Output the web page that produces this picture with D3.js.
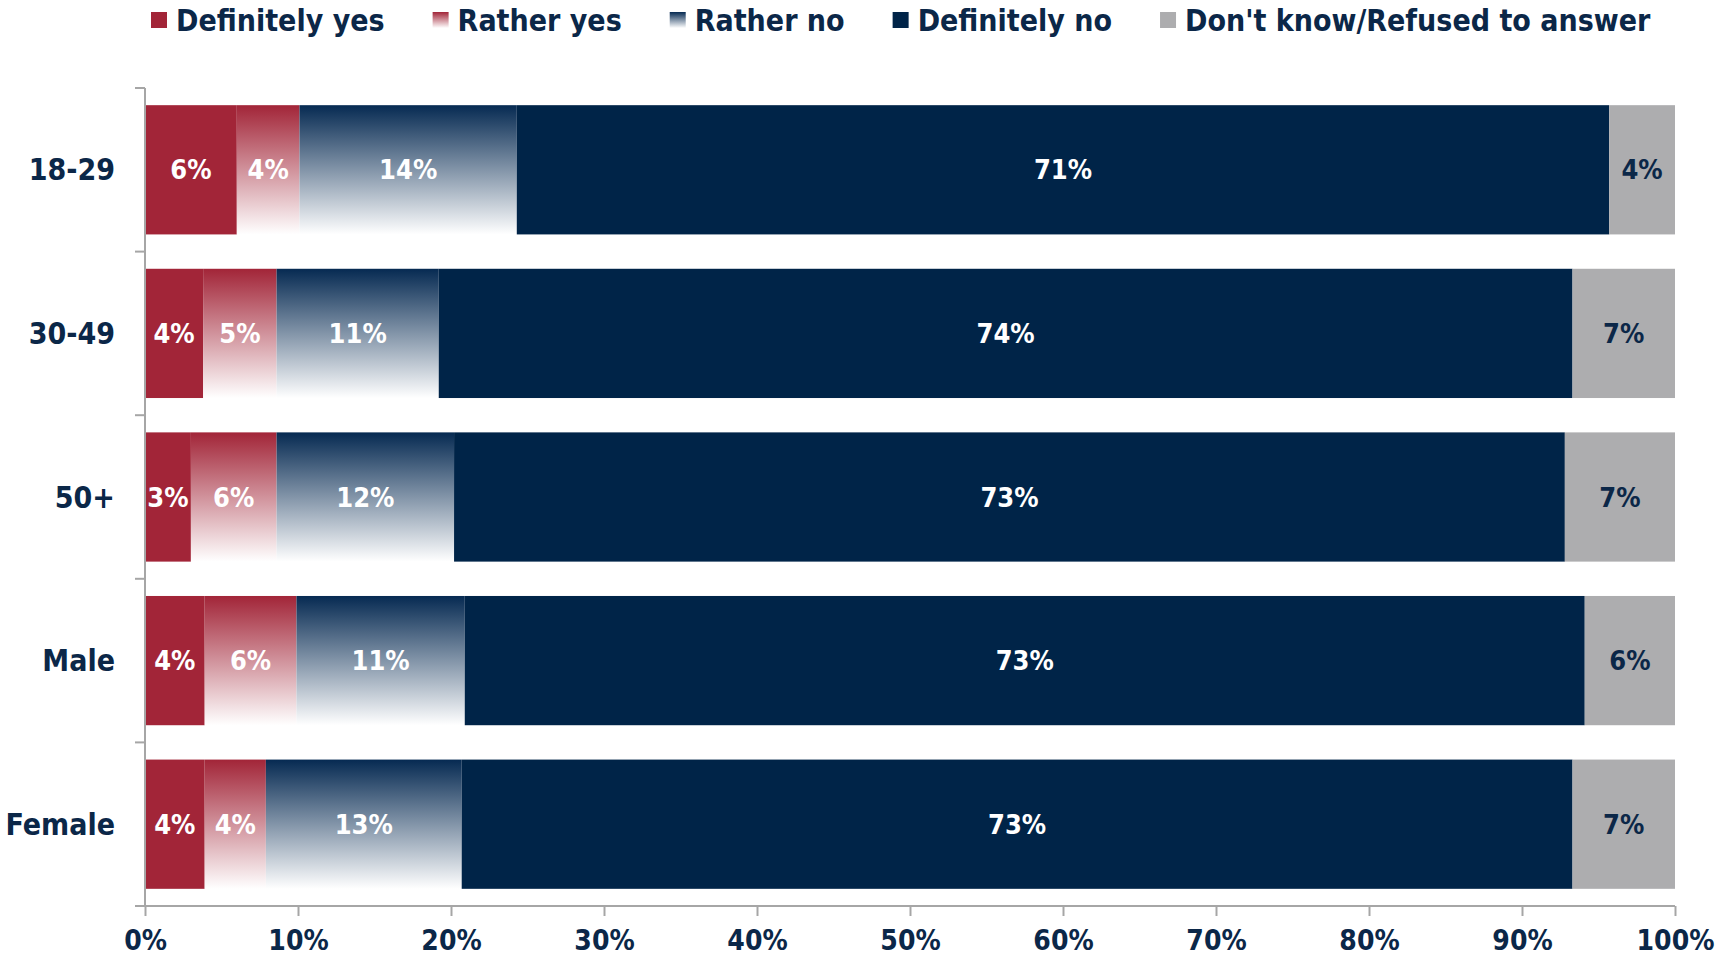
<!DOCTYPE html>
<html>
<head>
<meta charset="utf-8">
<script src="https://cdn.jsdelivr.net/npm/d3@7"></script>
<style>
  html, body { margin: 0; padding: 0; background: #fff; }
  svg { display: block; }
  text { font-family: "DejaVu Sans Condensed", "DejaVu Sans", sans-serif; font-weight: bold; }
</style>
</head>
<body>
<svg id="chart" width="1715" height="966"></svg>
<script>
// ---- data ----
const categories = ["18-29", "30-49", "50+", "Male", "Female"];
const seriesNames = ["Definitely yes", "Rather yes", "Rather no", "Definitely no", "Don't know/Refused to answer"];
const definitelyYes = [6.0, 3.8, 3.0, 3.9, 3.9];
const ratherYes     = [4.1, 4.8, 5.6, 6.0, 4.0];
const ratherNo      = [14.2, 10.6, 11.6, 11.0, 12.8];
const definitelyNo  = [71.4, 74.1, 72.6, 73.2, 72.6];
const dontKnow      = [4.3, 6.7, 7.2, 5.9, 6.7];
const xTicks = [0, 10, 20, 30, 40, 50, 60, 70, 80, 90, 100];

const seriesValues = [definitelyYes, ratherYes, ratherNo, definitelyNo, dontKnow];

// ---- styles ----
const navyText = "#0B2748";
const fills = ["#A22538", "url(#gradRatherYes)", "url(#gradRatherNo)", "#002448", "#ADADAF"];
const labelColors = ["#fff", "#fff", "#fff", "#fff", navyText];

const svg = d3.select("#chart");
const W = 1715, H = 966;
svg.append("rect").attr("width", W).attr("height", H).attr("fill", "#fff");

const defs = svg.append("defs");
function grad(id, top) {
  const g = defs.append("linearGradient").attr("id", id)
    .attr("x1", 0).attr("y1", 0).attr("x2", 0).attr("y2", 1);
  g.append("stop").attr("offset", "0%").attr("stop-color", top);
  g.append("stop").attr("offset", "100%").attr("stop-color", "#ffffff");
}
grad("gradRatherYes", "#A22538");
grad("gradRatherNo", "#062A52");

const x = d3.scaleLinear().domain([0, 100]).range([145, 1675]);
const y = d3.scaleBand().domain(categories).range([88, 906])
  .paddingInner(0.21).paddingOuter(0.105);

// rows: stacked
const rows = categories.map((c, i) => {
  const obj = { cat: c };
  seriesNames.forEach((s, j) => obj[s] = seriesValues[j][i]);
  return obj;
});
const stack = d3.stack().keys(seriesNames)(rows);

const layers = svg.append("g").selectAll("g").data(stack).join("g")
  .attr("fill", (d, i) => fills[i]);

layers.selectAll("rect").data(d => d).join("rect")
  .attr("x", d => x(d[0]))
  .attr("y", d => y(d.data.cat))
  .attr("width", d => x(d[1]) - x(d[0]))
  .attr("height", y.bandwidth());

// value labels
const lab = svg.append("g");
stack.forEach((layer, i) => {
  lab.selectAll(null).data(layer).join("text")
    .attr("x", d => (x(d[0]) + x(d[1])) / 2)
    .attr("y", d => y(d.data.cat) + y.bandwidth() / 2)
    .attr("text-anchor", "middle")
    .attr("dominant-baseline", "central")
    .attr("font-size", 27)
    .attr("fill", labelColors[i])
    .text(d => d3.format(".0f")(d[1] - d[0]) + "%");
});

// axes
const axisColor = "#A6A6A6";
// y axis line + boundary ticks
const yAxisG = svg.append("g");
yAxisG.append("line")
  .attr("x1", x(0)).attr("x2", x(0))
  .attr("y1", y.range()[0]).attr("y2", y.range()[1])
  .attr("stroke", axisColor).attr("stroke-width", 2);
const boundaries = d3.range(categories.length + 1).map(i => y.range()[0] + i * y.step());
yAxisG.selectAll("line.t").data(boundaries).join("line").attr("class", "t")
  .attr("x1", x(0) - 10).attr("x2", x(0))
  .attr("y1", d => d).attr("y2", d => d)
  .attr("stroke", axisColor).attr("stroke-width", 2);
// category labels
const yAx = svg.append("g").attr("transform", `translate(${x(0) - 30},0)`)
  .call(d3.axisLeft(y).tickSize(0).tickPadding(0));
yAx.select(".domain").remove();
yAx.selectAll("text")
  .attr("font-size", 30).attr("fill", navyText)
  .attr("font-family", "DejaVu Sans Condensed, DejaVu Sans, sans-serif")
  .attr("font-weight", "bold")
  .attr("dy", "0.35em");

// x axis
const xAx = svg.append("g").attr("transform", `translate(0,${y.range()[1]})`)
  .call(d3.axisBottom(x).tickValues(xTicks).tickFormat(d => d + "%")
    .tickSize(10).tickSizeOuter(0).tickPadding(14));
xAx.select(".domain").attr("stroke", axisColor).attr("stroke-width", 2)
  .attr("d", `M${x(0) - 10},0H${x(100)}`);
xAx.selectAll(".tick line").attr("stroke", axisColor).attr("stroke-width", 2);
xAx.selectAll("text")
  .attr("font-size", 28).attr("fill", navyText)
  .attr("font-family", "DejaVu Sans Condensed, DejaVu Sans, sans-serif")
  .attr("font-weight", "bold");

// legend
const legend = svg.append("g");
let lx = 151;
const legendFills = ["#A22538", "url(#gradRatherYes)", "url(#gradRatherNo)", "#002448", "#ADADAF"];
seriesNames.forEach((name, i) => {
  const g = legend.append("g");
  g.append("rect").attr("x", lx).attr("y", 12).attr("width", 16).attr("height", 16)
    .attr("fill", legendFills[i]);
  const t = g.append("text").attr("x", lx + 25).attr("y", 20)
    .attr("dominant-baseline", "central")
    .attr("font-size", 30).attr("fill", navyText).text(name);
  lx += 25 + t.node().getComputedTextLength() + 48;
});
</script>
</body>
</html>
